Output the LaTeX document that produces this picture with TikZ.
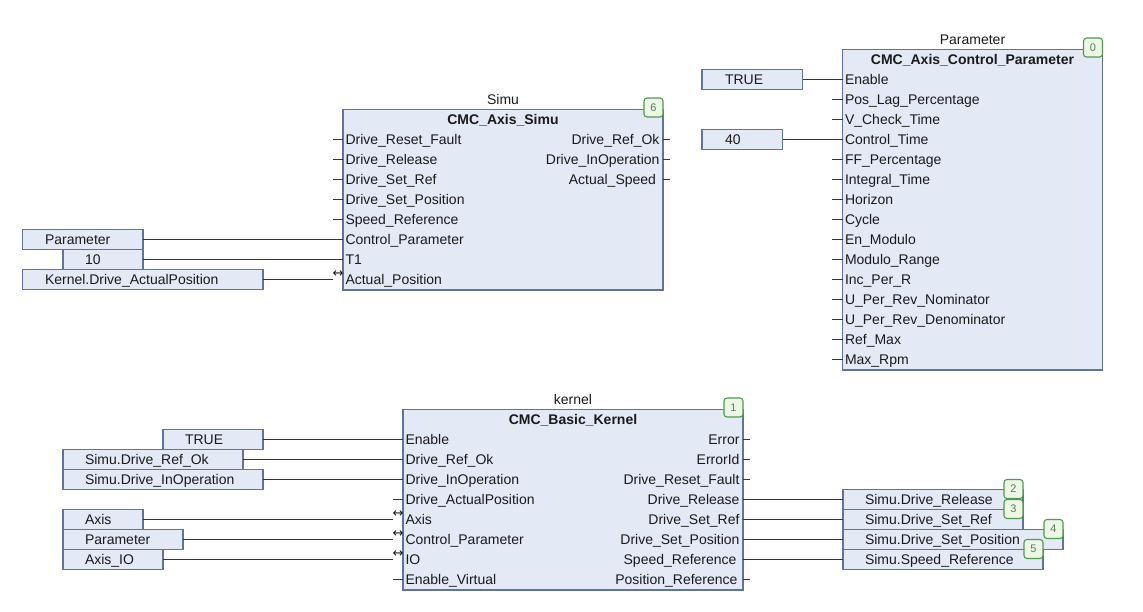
\documentclass[tikz,border=0pt]{standalone}
\usepackage{fontspec}
\setmainfont{Liberation Sans}
\newfontfamily\symfont{DejaVu Sans}
\definecolor{bfill}{HTML}{E3E9F5}
\definecolor{bline}{HTML}{5E739E}
\definecolor{wirec}{HTML}{333333}
\definecolor{txt}{HTML}{1A1A1A}
\definecolor{gfill}{HTML}{ECF7E6}
\definecolor{gline}{HTML}{4E9A4E}
\definecolor{gtxt}{HTML}{557F55}
\begin{document}
\begin{tikzpicture}[x=1pt,y=-1pt,
  pinfont/.style={font=\fontsize{14}{16}\selectfont, text=txt, inner sep=0pt, outer sep=0pt, text height=10pt, text depth=0pt},
  fb/.style={draw=bline, fill=bfill, line width=1.3pt, inner sep=0pt, outer sep=0pt, anchor=north west},
  pinL/.style={pinfont, anchor=west},
  pinR/.style={pinfont, anchor=east},
  ttl/.style={pinfont, font=\fontsize{14}{16}\selectfont\bfseries},
  inst/.style={pinfont},
  vbox/.style={pinfont, draw=bline, fill=bfill, line width=1.3pt, minimum height=20pt, anchor=north west, align=left},
  badge/.style={draw=gline, fill=gfill, rounded corners=3pt, line width=1.1pt, minimum size=19pt, inner sep=0pt, outer sep=0pt, anchor=north east, text=gtxt, font=\fontsize{11}{12}\selectfont},
  wire/.style={draw=wirec, line width=1.5pt},
  bidir/.style={font=\symfont\fontsize{13}{14}\selectfont, text=txt, inner sep=0pt, outer sep=0pt, anchor=base}
]
\useasboundingbox (0,0) rectangle (1143,611);

% ---------------- Simu block ----------------
\node[fb, minimum width=320pt, minimum height=180.5pt] (simu) at (343,109.5) {};
\node[inst] (simuname) at (503,99.5) {Simu};
\node[ttl] (simutitle) at (503,119.5) {CMC\_Axis\_Simu};
\node[badge] (simubadge) at (663,98) {6};
\foreach \t [count=\i from 0] in {Drive\_Reset\_Fault,Drive\_Release,Drive\_Set\_Ref,Drive\_Set\_Position,Speed\_Reference,Control\_Parameter,T1,Actual\_Position}{
  \node[pinL] (sL\i) at (345.5,{139.5+20*\i}) {\t};
  \coordinate (sLp\i) at (343,{139.5+20*\i});
}
\foreach \i in {0,...,4}{ \draw[wire] (sLp\i) -- ++(-10,0); }
\node[pinR] (sR0) at (659.5,139.5) {Drive\_Ref\_Ok};
\node[pinR] (sR1) at (659.5,159.5) {Drive\_InOperation};
\node[pinR] (sR2) at (656,179.5) {Actual\_Speed};
\foreach \i in {0,1,2}{
  \coordinate (sRp\i) at (663,{139.5+20*\i});
  \draw[wire] (sRp\i) -- ++(7,0);
}
\coordinate (sLb7) at (333,279.5);

% inputs of Simu
\node[vbox, text width=120.5pt] (siPar) at (22.5,229.5) {\hspace*{22.5pt}Parameter};
\node[vbox, text width=80pt] (si10) at (63,249.5) {\hspace*{22pt}10};
\node[vbox, text width=240.5pt] (siKer) at (22.5,269.5) {\hspace*{22.5pt}Kernel.Drive\_ActualPosition};
\draw[wire] (siPar.east) -- (sLp5);
\draw[wire] (si10.east) -- (sLp6);
\draw[wire] (siKer.east) -- (sLb7);
\node[bidir] (sArr7) at (338,277.5) {↔};

% ---------------- Parameter block ----------------
\node[fb, minimum width=260pt, minimum height=320.5pt] (par) at (842.5,49.5) {};
\node[inst] (parname) at (972.5,39.5) {Parameter};
\node[ttl] (partitle) at (972.5,59.5) {CMC\_Axis\_Control\_Parameter};
\node[badge] (parbadge) at (1102.5,38) {0};
\foreach \t [count=\i from 0] in {Enable,Pos\_Lag\_Percentage,V\_Check\_Time,Control\_Time,FF\_Percentage,Integral\_Time,Horizon,Cycle,En\_Modulo,Modulo\_Range,Inc\_Per\_R,U\_Per\_Rev\_Nominator,U\_Per\_Rev\_Denominator,Ref\_Max,Max\_Rpm}{
  \node[pinL] (pL\i) at (845,{79.5+20*\i}) {\t};
  \coordinate (pLp\i) at (842.5,{79.5+20*\i});
}
\foreach \i in {1,2,4,5,6,7,8,9,10,11,12,13,14}{ \draw[wire] (pLp\i) -- ++(-10.5,0); }
\node[vbox, text width=100.5pt] (piTrue) at (702,69.5) {\hspace*{23pt}TRUE};
\node[vbox, text width=80.5pt] (pi40) at (702,129.5) {\hspace*{23pt}40};
\draw[wire] (piTrue.east) -- (pLp0);
\draw[wire] (pi40.east) -- (pLp3);

% ---------------- kernel block ----------------
\node[fb, minimum width=340pt, minimum height=180.5pt] (ker) at (403,409.5) {};
\node[inst] (kername) at (573,399.5) {kernel};
\node[ttl] (kertitle) at (573,419.5) {CMC\_Basic\_Kernel};
\node[badge] (kerbadge) at (743,398) {1};
\foreach \t [count=\i from 0] in {Enable,Drive\_Ref\_Ok,Drive\_InOperation,Drive\_ActualPosition,Axis,Control\_Parameter,IO,Enable\_Virtual}{
  \node[pinL] (kL\i) at (405.5,{439.5+20*\i}) {\t};
  \coordinate (kLp\i) at (403,{439.5+20*\i});
}
\foreach \i in {3,7}{ \draw[wire] (kLp\i) -- ++(-10,0); }
\foreach \t [count=\i from 0] in {Error,ErrorId,Drive\_Reset\_Fault,Drive\_Release,Drive\_Set\_Ref,Drive\_Set\_Position}{
  \node[pinR] (kR\i) at (739.5,{439.5+20*\i}) {\t};
}
\node[pinR] (kR6) at (736.5,559.5) {Speed\_Reference};
\node[pinR] (kR7) at (737.5,579.5) {Position\_Reference};
\foreach \i in {0,...,7}{ \coordinate (kRp\i) at (743,{439.5+20*\i}); }
\foreach \i in {0,1,2,7}{ \draw[wire] (kRp\i) -- ++(6.5,0); }
\foreach \i in {4,5,6}{
  \coordinate (kLb\i) at (393,{439.5+20*\i});
  \node[bidir] (kArr\i) at (398,{437.5+20*\i}) {↔};
}

% inputs of kernel
\node[vbox, text width=100pt] (kiTrue) at (163,429.5) {\hspace*{22pt}TRUE};
\node[vbox, text width=180pt] (kiRef) at (63,449.5) {\hspace*{22pt}Simu.Drive\_Ref\_Ok};
\node[vbox, text width=200pt] (kiOp) at (63,469.5) {\hspace*{22pt}Simu.Drive\_InOperation};
\node[vbox, text width=80pt] (kiAxis) at (63,509.5) {\hspace*{22pt}Axis};
\node[vbox, text width=120pt] (kiPar) at (63,529.5) {\hspace*{22pt}Parameter};
\node[vbox, text width=100pt] (kiIO) at (63,549.5) {\hspace*{22pt}Axis\_IO};
\draw[wire] (kiTrue.east) -- (kLp0);
\draw[wire] (kiRef.east) -- (kLp1);
\draw[wire] (kiOp.east) -- (kLp2);
\draw[wire] (kiAxis.east) -- (kLb4);
\draw[wire] (kiPar.east) -- (kLb5);
\draw[wire] (kiIO.east) -- (kLb6);

% outputs of kernel
\node[vbox, text width=180pt] (koRel) at (843,489.5) {\hspace*{22pt}Simu.Drive\_Release};
\node[vbox, text width=180pt] (koRef) at (843,509.5) {\hspace*{22pt}Simu.Drive\_Set\_Ref};
\node[vbox, text width=220pt] (koPos) at (843,529.5) {\hspace*{22pt}Simu.Drive\_Set\_Position};
\node[vbox, text width=200pt] (koSpd) at (843,549.5) {\hspace*{22pt}Simu.Speed\_Reference};
\draw[wire] (kRp3) -- (koRel.west);
\draw[wire] (kRp4) -- (koRef.west);
\draw[wire] (kRp5) -- (koPos.west);
\draw[wire] (kRp6) -- (koSpd.west);
\node[badge] (b2) at (1023,479.5) {2};
\node[badge] (b3) at (1023,499.5) {3};
\node[badge] (b4) at (1063,519.5) {4};
\node[badge] (b5) at (1043,539.5) {5};
\end{tikzpicture}
\end{document}
